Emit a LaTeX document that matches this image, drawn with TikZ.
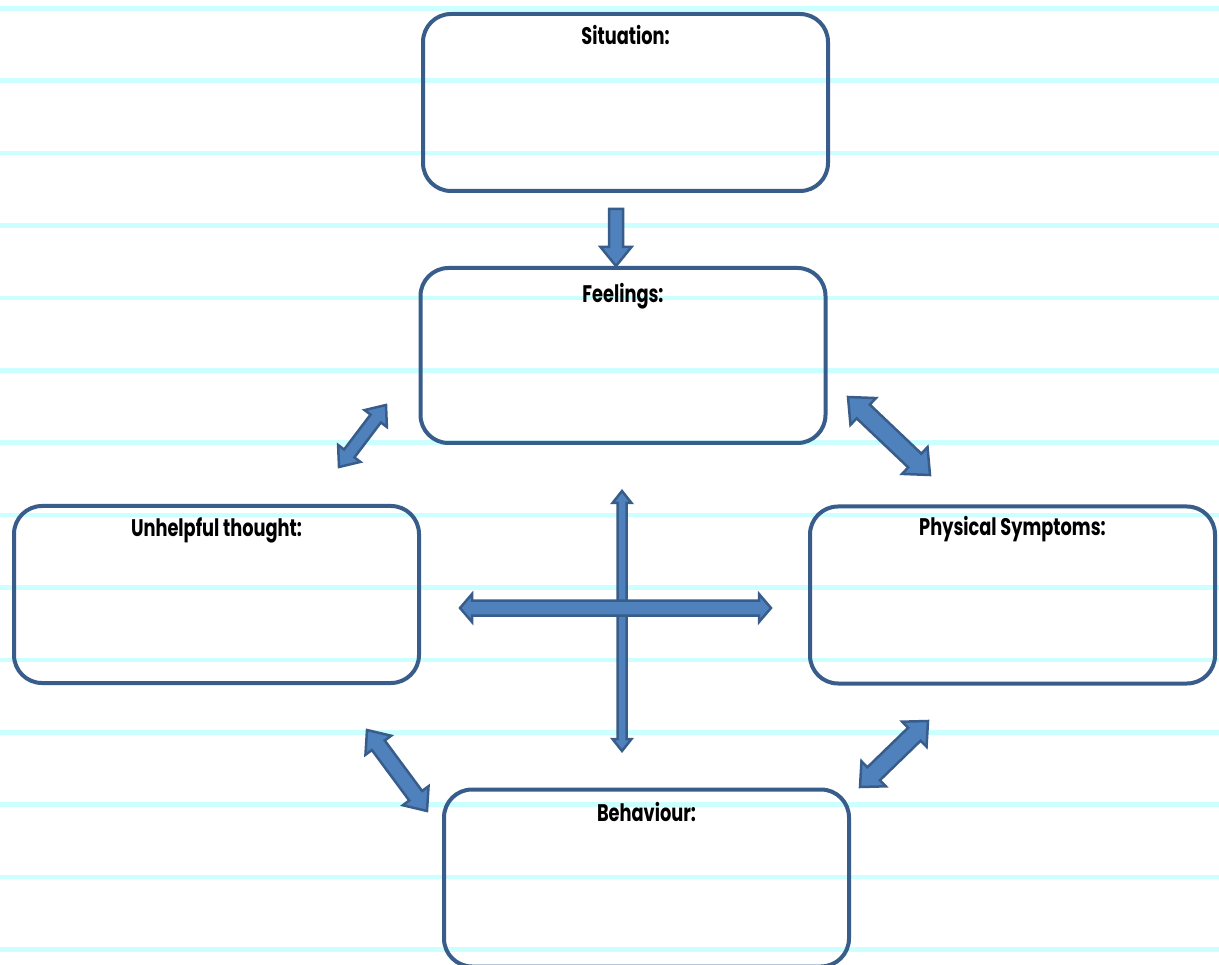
\documentclass[tikz,border=0pt]{standalone}
\usepackage{fontspec}
\setmainfont{Poppins}[FakeStretch=0.74]
\usetikzlibrary{positioning, calc}
\definecolor{boxEdge}{RGB}{56, 93, 138}
\definecolor{arrowFill}{RGB}{79, 129, 189}
\definecolor{ruleCyan}{RGB}{204, 255, 255}

% block arrow with a head at both ends: from, to, shaft half width, head half width, head length
\newcommand{\dblarrow}[5]{%
	\filldraw[cbt_arrow] (#1)
	-- ($(#1)!#5!(#2)!#4!90:(#2)$) -- ($(#1)!#5!(#2)!#3!90:(#2)$)
	-- ($(#2)!#5!(#1)!#3!-90:(#1)$) -- ($(#2)!#5!(#1)!#4!-90:(#1)$)
	-- (#2)
	-- ($(#2)!#5!(#1)!#4!90:(#1)$) -- ($(#2)!#5!(#1)!#3!90:(#1)$)
	-- ($(#1)!#5!(#2)!#3!-90:(#2)$) -- ($(#1)!#5!(#2)!#4!-90:(#2)$)
	-- cycle;}
% block arrow with one head: tail, tip, shaft half width, head half width, head length
\newcommand{\onearrow}[5]{%
	\filldraw[cbt_arrow] ($(#1)!#3!90:(#2)$)
	-- ($(#2)!#5!(#1)!#3!-90:(#1)$) -- ($(#2)!#5!(#1)!#4!-90:(#1)$)
	-- (#2)
	-- ($(#2)!#5!(#1)!#4!90:(#1)$) -- ($(#2)!#5!(#1)!#3!90:(#1)$)
	-- ($(#1)!#3!-90:(#2)$)
	-- cycle;}

\begin{document}
\begin{tikzpicture}[x=1pt, y=-1pt,
		cbt_box/.style   = {draw=boxEdge, line width=4pt, rounded corners=28pt,
			minimum width=405pt, minimum height=177pt},
		cbt_title/.style = {font=\fontsize{24}{28}\selectfont\bfseries, inner sep=0pt},
		cbt_arrow/.style = {fill=arrowFill, draw=boxEdge, line width=2.5pt},
		rule_line/.style = {draw=ruleCyan, line width=4.5pt}
		]
		\useasboundingbox (0,0) rectangle (1219,965);
		\fill[white] (0,0) rectangle (1219,965);
		\clip (0,0) rectangle (1219,965);
		
		% ruled paper
		\foreach \k in {0,...,13}
		\draw[rule_line] (0,{8.3+72.4*\k}) -- (1219,{8.3+72.4*\k});
		
		\node[cbt_box] (sit) at (625.5, 102.5) {};
		\node[cbt_box, minimum height=175pt] (feel) at (623, 355.5) {};
		\node[cbt_box] (unh) at (216.5, 594.5) {};
		\node[cbt_box] (phys) at (1012.5, 595) {};
		\node[cbt_box] (beh) at (646.5, 878) {};
		
		\node[cbt_title, below=13pt of sit.north] (sit_t) {Situation:};
		\node[cbt_title, below=17pt of feel.north] (feel_t) {Feelings:};
		\node[cbt_title, below=13pt of unh.north] (unh_t) {Unhelpful thought:};
		\node[cbt_title, below=12pt of phys.north] (phys_t) {Physical Symptoms:};
		\node[cbt_title, below=15pt of beh.north] (beh_t) {Behaviour:};
		
		\coordinate (sf_a) at (616, 209);  \coordinate (sf_b) at (616, 266);
		\coordinate (uf_a) at (339, 467);  \coordinate (uf_b) at (386, 405);
		\coordinate (fp_a) at (848, 397);  \coordinate (fp_b) at (930, 475);
		\coordinate (vc_a) at (622, 491);  \coordinate (vc_b) at (622, 751);
		\coordinate (hc_a) at (460, 608);  \coordinate (hc_b) at (771, 608);
		\coordinate (ub_a) at (367, 730);  \coordinate (ub_b) at (427, 811);
		\coordinate (pb_a) at (928, 721);  \coordinate (pb_b) at (860, 787);
		
		\onearrow{sf_a}{sf_b}{7pt}{15.5pt}{19pt}
		\dblarrow{uf_a}{uf_b}{6.5pt}{14pt}{17pt}
		\dblarrow{fp_a}{fp_b}{9.5pt}{18.5pt}{21pt}
		\dblarrow{vc_a}{vc_b}{4.5pt}{9.5pt}{12pt}
		\dblarrow{hc_a}{hc_b}{7.5pt}{14pt}{12pt}
		\dblarrow{ub_a}{ub_b}{8pt}{16pt}{19pt}
		\dblarrow{pb_a}{pb_b}{9pt}{17.5pt}{19pt}
	\end{tikzpicture}
\end{document}
